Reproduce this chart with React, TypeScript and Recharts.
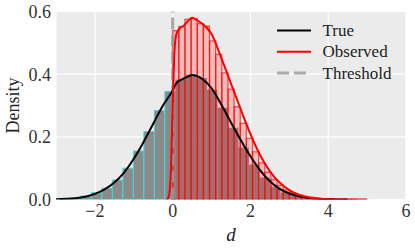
import React from "react"
import { CartesianGrid, ComposedChart, Legend, Line, ReferenceArea, ReferenceLine, XAxis, YAxis } from "recharts"

// true d histogram (gray bars, cyan edges): left bin edges + density
const trueBinEdges = [
    -2.9, -2.63, -2.36, -2.09, -1.82, -1.55, -1.28, -1.01, -0.74, -0.47, -0.2, 0.07, 0.34,
    0.61, 0.88, 1.15, 1.42, 1.69, 1.96, 2.23, 2.5, 2.77, 3.04, 3.31, 3.58, 3.85, 4.12,
]
const trueBinDensity = [
    0.002, 0.0045, 0.011, 0.022, 0.036, 0.062, 0.1, 0.155, 0.217, 0.284, 0.345, 0.382, 0.398,
    0.388, 0.35, 0.293, 0.229, 0.166, 0.112, 0.07, 0.041, 0.022, 0.011, 0.005, 0.0023, 0.0009,
]

// observed d histogram (pink bars, red edges)
const obsBinEdges = [
    0, 0.158, 0.316, 0.474, 0.632, 0.79, 0.948, 1.106, 1.264, 1.422, 1.58, 1.738, 1.896, 2.054,
    2.212, 2.37, 2.528, 2.686, 2.844, 3.002, 3.16, 3.318, 3.476, 3.634, 3.792, 3.95, 4.108,
    4.266, 4.424, 4.582, 4.74,
]
const obsBinDensity = [
    0.539, 0.552, 0.575, 0.578, 0.561, 0.553, 0.506, 0.463, 0.404, 0.352, 0.296, 0.243, 0.195,
    0.152, 0.117, 0.087, 0.063, 0.045, 0.031, 0.021, 0.014, 0.009, 0.0055, 0.0034, 0.002,
    0.0011, 0.0006, 0.0003, 0.0002, 0.0001,
]

// KDE curves
const trueX = [
    -3, -2.75, -2.5, -2.25, -2, -1.75, -1.5, -1.25, -1, -0.75, -0.5, -0.25, 0, 0.1, 0.2, 0.3, 0.4,
    0.5, 0.6, 0.75, 1, 1.25, 1.5, 1.75, 2, 2.25, 2.5, 2.75, 3, 3.25, 3.5, 3.75, 4, 4.5,
]
const trueY = [
    0.001, 0.002, 0.004, 0.009, 0.018, 0.032, 0.054, 0.086, 0.13, 0.183, 0.242, 0.3, 0.348, 0.372,
    0.381, 0.387, 0.393, 0.397, 0.395, 0.386, 0.355, 0.303, 0.246, 0.19, 0.138, 0.093, 0.058,
    0.034, 0.019, 0.01, 0.005, 0.002, 0.001, 0,
]
const obsX = [
    -0.15, -0.1, -0.05, 0, 0.05, 0.1, 0.2, 0.3, 0.4, 0.5, 0.6, 0.75, 0.9, 1, 1.25, 1.5, 1.75, 2,
    2.25, 2.5, 2.75, 3, 3.25, 3.5, 3.75, 4, 4.5, 5,
]
const obsY = [
    0, 0.01, 0.08, 0.3, 0.48, 0.53, 0.548, 0.556, 0.57, 0.58, 0.574, 0.562, 0.545, 0.528, 0.452,
    0.37, 0.288, 0.209, 0.141, 0.09, 0.054, 0.03, 0.015, 0.007, 0.003, 0.001, 0.0003, 0,
]

const threshold = 0
const xTicks = [-2, 0, 2, 4, 6]
const yTicks = [0, 0.2, 0.4, 0.6]

const trueCurve = trueX.map((x, i) => ({ x, y: trueY[i] }))
const obsCurve = obsX.map((x, i) => ({ x, y: obsY[i] }))

const FONT = "Liberation Serif, serif"
const textStyle = { fontFamily: FONT }

const legendItems = [
    { label: "True", color: "#000000", width: 2, dash: undefined },
    { label: "Observed", color: "#ff0000", width: 2, dash: undefined },
    { label: "Threshold", color: "#aaaaaa", width: 3, dash: "12 5" },
]

function renderLegend() {
    return (
        <svg width={140} height={70} style={{ display: "block" }}>
            {legendItems.map((it, i) => (
                <g key={it.label}>
                    <line x1={7} x2={41} y1={12.5 + i * 21.3} y2={12.5 + i * 21.3} stroke={it.color} strokeWidth={it.width} strokeDasharray={it.dash} />
                    <text x={52.5} y={12.5 + i * 21.3} dominantBaseline="central" style={textStyle} fontSize={17} fill="#222">
                        {it.label}
                    </text>
                </g>
            ))}
        </svg>
    )
}

export default function App() {
    return (
        <div style={{ position: "absolute", left: 0, top: 0, fontFamily: FONT }}>
            <ComposedChart width={415} height={249} margin={{ top: 11.5, right: 9, bottom: 0, left: 0 }} style={textStyle}>
                <CartesianGrid fill="#ebebeb" stroke="#ffffff" strokeWidth={1.2} />
                <XAxis
                    dataKey="x"
                    type="number"
                    domain={[-3, 6]}
                    ticks={xTicks}
                    allowDataOverflow
                    height={49.5}
                    tickLine={false}
                    axisLine={false}
                    tickSize={0}
                    tickMargin={4.5}
                    tick={{ fill: "#333", fontSize: 18, style: textStyle }}
                    tickFormatter={(v: number) => (v < 0 ? `\u2212${Math.abs(v)}` : `${v}`)}
                    label={{ value: "d", position: "insideBottom", offset: 8, fill: "#222", fontSize: 19, style: { ...textStyle, fontStyle: "italic" } }}
                />
                <YAxis
                    type="number"
                    domain={[0, 0.6]}
                    ticks={yTicks}
                    allowDataOverflow
                    width={56}
                    tickLine={false}
                    axisLine={false}
                    tickSize={0}
                    tickMargin={5}
                    tick={{ fill: "#333", fontSize: 18, style: textStyle }}
                    tickFormatter={(v: number) => v.toFixed(1)}
                    label={{
                        content: ({ viewBox }: any) => {
                            const cy = viewBox.y + viewBox.height / 2
                            return (
                                <text x={13} y={cy} transform={`rotate(-90 13 ${cy})`} textAnchor="middle" dominantBaseline="central" style={textStyle} fontSize={18} fill="#222">
                                    Density
                                </text>
                            )
                        },
                    }}
                />
                {trueBinDensity.map((d, i) => (
                    <ReferenceArea
                        key={`t${i}`}
                        x1={trueBinEdges[i]}
                        x2={trueBinEdges[i + 1]}
                        y1={0}
                        y2={d}
                        fill="#8a8a8a"
                        fillOpacity={1}
                        stroke={trueBinEdges[i] < threshold ? "#40d8d8" : "none"}
                        strokeWidth={1}
                        ifOverflow="hidden"
                    />
                ))}
                {obsBinDensity.map((d, i) => (
                    <ReferenceArea
                        key={`o${i}`}
                        x1={obsBinEdges[i]}
                        x2={obsBinEdges[i + 1]}
                        y1={0}
                        y2={d}
                        fill="#ff0000"
                        fillOpacity={0.2}
                        stroke="#ff0000"
                        strokeOpacity={0.65}
                        strokeWidth={1.3}
                        ifOverflow="hidden"
                    />
                ))}
                <ReferenceLine x={threshold} stroke="#999999" strokeOpacity={0.85} strokeWidth={3} strokeDasharray="12 5" />
                <Line data={trueCurve} dataKey="y" type="monotone" stroke="#000000" strokeWidth={2} dot={false} isAnimationActive={false} />
                <Line data={obsCurve} dataKey="y" type="monotone" stroke="#ff0000" strokeWidth={2} dot={false} isAnimationActive={false} />
                <Legend
                    layout="vertical"
                    align="center"
                    verticalAlign="middle"
                    content={renderLegend}
                    wrapperStyle={{ top: 18, left: 270, width: 140, height: 70 }}
                />
            </ComposedChart>
        </div>
    )
}
